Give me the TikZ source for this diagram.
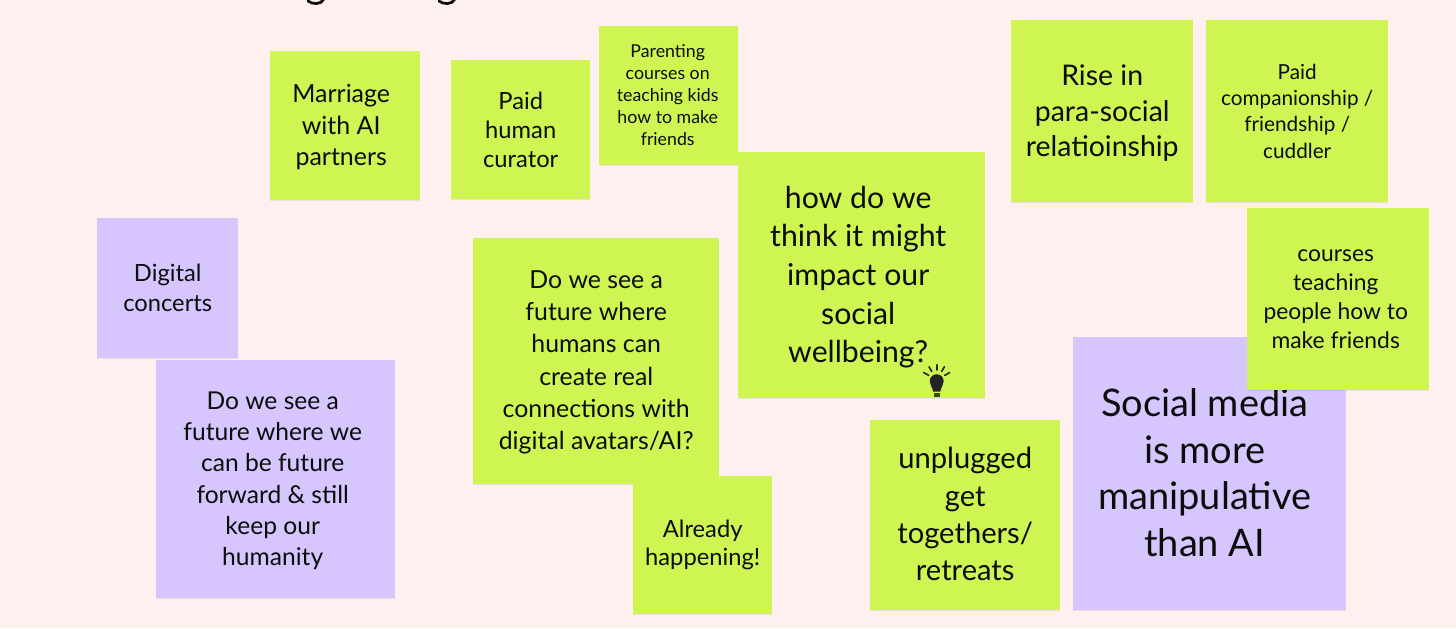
\documentclass[tikz,border=0pt]{standalone}
\usepackage{fontspec}
\setmainfont{Lato}
\usetikzlibrary{shadows}
\definecolor{wallPink}{HTML}{FFF0F0}
\definecolor{noteLime}{HTML}{CFF553}
\definecolor{noteLilac}{HTML}{D7C6FD}
\definecolor{noteInk}{HTML}{0C0C0C}
\tikzset{
  sticky/.style    ={anchor=north west,inner sep=0pt,
                     drop shadow={shadow xshift=0pt,shadow yshift=-0.012,opacity=0.07,fill=black}},
  limenote/.style  ={sticky,fill=noteLime},
  lilacnote/.style ={sticky,fill=noteLilac},
  notetext/.style  ={inner sep=0pt,align=center,text=noteInk},
  bulbray/.style   ={noteInk!90,line width=0.016cm,line cap=round},
  glyphtail/.style ={noteInk,line width=0.027cm,line cap=round},
}
\newcommand{\notesize}[2]{\fontsize{#1}{#2}\selectfont}
\begin{document}
\begin{tikzpicture}
\useasboundingbox[fill=wallPink] (0,0) rectangle (14.56,-6.28);

% what is left of the heading
\draw[glyphtail] (3.08,-0.01) .. controls (3.12,-0.045) and (3.21,-0.05) .. (3.24,0.01);
\draw[glyphtail] (4.39,-0.01) .. controls (4.43,-0.045) and (4.52,-0.05) .. (4.55,0.01);

% lime notes along the top
\node[limenote,minimum width=1.50cm,minimum height=1.49cm,
  label={[notetext,font=\notesize{7.1}{8.96},xshift=-0.04cm,yshift=-0.015cm]center:Marriage\\with AI\\partners}] (marriage) at (2.695,-0.505) {};
\node[limenote,minimum width=1.39cm,minimum height=1.39cm,
  label={[notetext,font=\notesize{6.75}{8.25}]center:Paid\\human\\curator}] (curator) at (4.505,-0.595) {};
\node[limenote,minimum width=1.39cm,minimum height=1.39cm,
  label={[notetext,font=\notesize{5.05}{6.26},xshift=-0.01cm,yshift=0.005cm]center:Parenting\\courses on\\teaching kids\\how to make\\friends}] (parenting) at (5.985,-0.255) {};
\node[limenote,minimum width=2.47cm,minimum height=2.46cm,
  label={[notetext,font=\notesize{8.6}{11},xshift=-0.035cm,yshift=-0.02cm]center:how do we\\think it might\\impact our\\social\\wellbeing?}] (wellbeing) at (7.375,-1.515) {};
\node[limenote,minimum width=1.82cm,minimum height=1.82cm,
  label={[notetext,font=\notesize{8.1}{10.1},yshift=-0.02cm]center:Rise in\\para-social\\relatioinship}] (parasocial) at (10.105,-0.195) {};
\node[limenote,minimum width=1.82cm,minimum height=1.82cm,
  label={[notetext,font=\notesize{5.9}{7.5}]center:Paid\\companionship /\\friendship /\\cuddler}] (companion) at (12.055,-0.195) {};

% lilac notes
\node[lilacnote,minimum width=1.41cm,minimum height=1.40cm,
  label={[notetext,font=\notesize{6.75}{8.5}]center:Digital\\concerts}] (concerts) at (0.965,-2.175) {};
\node[lilacnote,minimum width=2.39cm,minimum height=2.38cm,
  label={[notetext,font=\notesize{7}{8.9},xshift=-0.03cm,yshift=-0.015cm]center:Do we see a\\future where we\\can be future\\forward \& still\\keep our\\humanity}] (humanity) at (1.555,-3.595) {};
\node[lilacnote,minimum width=2.73cm,minimum height=2.73cm,
  label={[notetext,font=\notesize{10.8}{13.2},xshift=-0.05cm,yshift=0.01cm]center:Social media\\is more\\manipulative\\than AI}] (manipulative) at (10.725,-3.365) {};

% lime notes lower down
\node[limenote,minimum width=2.46cm,minimum height=2.46cm,
  label={[notetext,font=\notesize{7.07}{9.2},yshift=-0.01cm]center:Do we see a\\future where\\humans can\\create real\\connections with\\digital avatars/AI?}] (avatars) at (4.725,-2.375) {};
\node[limenote,minimum width=1.39cm,minimum height=1.38cm,
  label={[notetext,font=\notesize{6.75}{8}]center:Already\\happening!}] (happening) at (6.325,-4.755) {};
\node[limenote,minimum width=1.90cm,minimum height=1.90cm,
  label={[notetext,font=\notesize{8.3}{10.6},yshift=0.01cm]center:unplugged\\get\\togethers/\\retreats}] (retreats) at (8.695,-4.195) {};
\node[limenote,minimum width=1.82cm,minimum height=1.82cm,
  label={[notetext,font=\notesize{6.5}{8.2},xshift=-0.025cm]center:courses\\teaching\\people how to\\make friends}] (courses) at (12.465,-2.075) {};

% the light bulb
\begin{scope}[shift={(9.367,-3.817)}]
  \foreach \rx/\ry/\ex/\ey in {-0.08/0.063/-0.13/0.092, -0.05/0.103/-0.077/0.15,
                               0/0.117/0/0.17, 0.05/0.103/0.077/0.15, 0.08/0.063/0.13/0.092}
    \draw[bulbray] (\rx,\ry) -- (\ex,\ey);
  \fill[noteInk!90] (-0.035,-0.10) .. controls (-0.045,-0.05) and (-0.07,-0.03) .. (-0.07,0.005)
    arc[start angle=180,end angle=0,radius=0.07]
    .. controls (0.07,-0.03) and (0.045,-0.05) .. (0.035,-0.10) -- cycle;
  \fill[noteInk!75!noteLime] (-0.032,-0.115) rectangle (0.032,-0.13);
  \fill[noteInk!75!noteLime] (-0.03,-0.135) rectangle (0.03,-0.15);
\end{scope}
\end{tikzpicture}
\end{document}
